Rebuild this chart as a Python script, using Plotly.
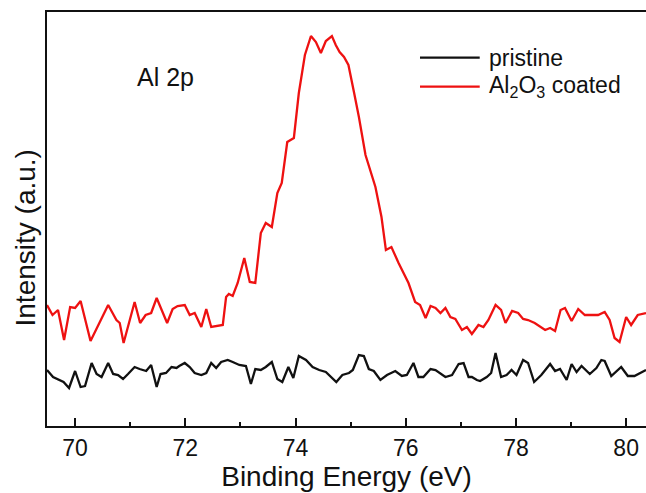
import plotly.graph_objects as go

# ---- data ----
pristine_x = [69.49, 69.60, 69.79, 69.89, 70.00, 70.10, 70.18, 70.30, 70.39, 70.48,
              70.60, 70.69, 70.78, 70.87, 70.96, 71.08, 71.17, 71.29, 71.38, 71.48,
              71.55, 71.65, 71.75, 71.84, 71.89, 71.99, 72.08, 72.17, 72.29, 72.38,
              72.47, 72.56, 72.65, 72.77, 72.86, 72.98, 73.10, 73.19, 73.27, 73.37,
              73.46, 73.57, 73.67, 73.76, 73.87, 73.96, 74.06, 74.19, 74.31, 74.43,
              74.55, 74.64, 74.74, 74.85, 74.97, 75.04, 75.15, 75.24, 75.33, 75.42,
              75.54, 75.66, 75.81, 75.93, 76.02, 76.14, 76.23, 76.32, 76.45, 76.54,
              76.72, 76.84, 76.96, 77.05, 77.14, 77.20, 77.29, 77.35, 77.47, 77.55,
              77.63, 77.73, 77.83, 77.92, 78.01, 78.13, 78.22, 78.33, 78.46, 78.62,
              78.71, 78.80, 78.92, 79.01, 79.10, 79.19, 79.34, 79.46, 79.55, 79.61,
              79.73, 79.91, 80.03, 80.15, 80.36]
pristine_y = [57, 50, 45, 39, 56, 40, 41, 64, 53, 50,
              64, 53, 52, 48, 53, 60, 58, 56, 62, 40,
              53, 54, 60, 59, 61, 64, 60, 54, 52, 54,
              64, 59, 65, 67, 65, 62, 61, 43, 58, 57,
              60, 65, 48, 45, 60, 49, 71, 67, 60, 57,
              55, 50, 45, 52, 54, 57, 72, 71, 58, 56,
              47, 52, 56, 51, 52, 64, 50, 50, 58, 57,
              50, 52, 63, 64, 50, 50, 47, 46, 50, 54,
              74, 50, 52, 57, 52, 67, 64, 45, 52, 63,
              56, 58, 47, 63, 55, 61, 53, 59, 67, 66,
              51, 60, 51, 51, 57]

coated_x = [69.49, 69.59, 69.69, 69.80, 69.91, 70.00, 70.10, 70.28, 70.60, 70.75,
            70.81, 70.88, 71.08, 71.18, 71.28, 71.38, 71.48, 71.67, 71.77, 71.86,
            71.99, 72.08, 72.17, 72.29, 72.38, 72.47, 72.68, 72.74, 72.79, 72.86,
            72.95, 73.07, 73.17, 73.27, 73.37, 73.46, 73.57, 73.67, 73.75, 73.85,
            73.97, 74.06, 74.17, 74.28, 74.37, 74.46, 74.55, 74.66, 74.73, 74.80,
            74.88, 74.96, 75.06, 75.15, 75.27, 75.45, 75.56, 75.64, 75.74, 75.87,
            76.05, 76.17, 76.26, 76.36, 76.45, 76.54, 76.63, 76.72, 76.81, 76.90,
            77.02, 77.11, 77.20, 77.32, 77.41, 77.50, 77.63, 77.73, 77.81, 77.93,
            78.04, 78.13, 78.22, 78.34, 78.53, 78.62, 78.71, 78.81, 78.89, 79.01,
            79.13, 79.25, 79.49, 79.61, 79.70, 79.79, 79.88, 80.00, 80.09, 80.21,
            80.36]
coated_y = [122, 112, 117, 87, 120, 119, 126, 86, 122, 107,
            104, 84, 125, 104, 112, 114, 129, 104, 118, 121,
            122, 112, 114, 100, 118, 100, 102, 130, 133, 131,
            144, 169, 145, 144, 194, 204, 200, 234, 244, 285,
            289, 334, 372, 391, 385, 374, 386, 391, 382, 375,
            370, 362, 335, 310, 272, 240, 210, 177, 180, 164,
            144, 125, 122, 109, 121, 119, 114, 119, 110, 108,
            97, 100, 93, 102, 100, 107, 122, 117, 104, 116,
            114, 108, 107, 104, 97, 99, 96, 117, 119, 106,
            118, 112, 112, 115, 107, 89, 85, 110, 102, 112,
            114]

x_tickvals = [70, 72, 74, 76, 78, 80]
x_ticktext = ["70", "72", "74", "76", "78", "80"]
series_names = ["pristine", "Al<sub>2</sub>O<sub>3</sub> coated"]
series_colors = ["#111111", "#ee1111"]

FONT = "Liberation Sans, Arial, sans-serif"

fig = go.Figure()
fig.add_trace(go.Scatter(x=pristine_x, y=pristine_y, mode="lines",
                         line=dict(color=series_colors[0], width=2.3),
                         name=series_names[0], showlegend=False))
fig.add_trace(go.Scatter(x=coated_x, y=coated_y, mode="lines",
                         line=dict(color=series_colors[1], width=2.3),
                         name=series_names[1], showlegend=False))

# manual legend (long line samples like the original)
leg_rows = [(0.8896, 0), (0.8196, 1)]
for ypos, i in leg_rows:
    fig.add_shape(type="line", xref="paper", yref="paper",
                  x0=0.6227, x1=0.7224, y0=ypos, y1=ypos,
                  line=dict(color=series_colors[i], width=2.3))
    fig.add_annotation(xref="paper", yref="paper", x=0.7346, y=ypos,
                       xanchor="left", yanchor="middle", showarrow=False,
                       text=series_names[i],
                       font=dict(family=FONT, size=23, color="#111111"))

fig.add_annotation(xref="paper", yref="paper", x=0.198, y=0.843,
                   xanchor="center", yanchor="middle", showarrow=False,
                   text="Al 2p", font=dict(family=FONT, size=25, color="#111111"))

fig.add_annotation(xref="paper", yref="paper", x=-0.036, y=0.454,
                   xanchor="center", yanchor="middle", showarrow=False,
                   textangle=-90, text="Intensity (a.u.)",
                   font=dict(family=FONT, size=28, color="#111111"))

fig.update_layout(
    width=646, height=493,
    margin=dict(l=47, r=0, t=12, b=67),
    paper_bgcolor="white", plot_bgcolor="white",
    font=dict(family=FONT, color="#111111"),
    xaxis=dict(range=[69.49, 80.36], showgrid=False, zeroline=False,
               showline=True, linecolor="#111111", linewidth=2, mirror=True,
               ticks="inside", ticklen=8, tickwidth=2, tickcolor="#111111",
               tickvals=x_tickvals, ticktext=x_ticktext,
               tickfont=dict(family=FONT, size=23, color="#111111"),
               minor=dict(ticks="inside", ticklen=4, tickwidth=2,
                          tickcolor="#111111", dtick=1, tick0=69),
               title=dict(text="Binding Energy (eV)", standoff=0,
                          font=dict(family=FONT, size=28, color="#111111"))),
    yaxis=dict(range=[1, 415], showgrid=False, zeroline=False,
               showline=True, linecolor="#111111", linewidth=2,
               ticks="", showticklabels=False),
)

fig.write_html("out.html")
